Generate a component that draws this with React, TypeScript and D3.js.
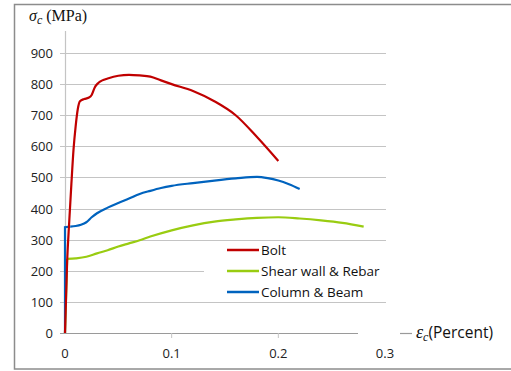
import React from "react";
import * as d3 from "d3";

const yTicks = [0, 100, 200, 300, 400, 500, 600, 700, 800, 900];
const xTicks = [0, 0.1, 0.2, 0.3];
const xTickLabels = ["0", "0.1", "0.2", "0.3"];

const boltX = [0, 0.002, 0.004, 0.006, 0.008, 0.01, 0.012, 0.014, 0.018, 0.022, 0.025, 0.028, 0.031, 0.035, 0.04, 0.05, 0.06, 0.07, 0.08, 0.09, 0.1, 0.12, 0.14, 0.16, 0.18, 0.2];
const boltY = [0, 230, 360, 480, 590, 665, 720, 745, 752, 756, 765, 790, 803, 812, 818, 827, 830, 828, 824, 812, 800, 778, 745, 700, 630, 553];

const shearX = [0, 0.002, 0.01, 0.02, 0.03, 0.04, 0.05, 0.06, 0.07, 0.08, 0.1, 0.12, 0.14, 0.16, 0.18, 0.2, 0.22, 0.24, 0.26, 0.28];
const shearY = [0, 238, 240, 245, 256, 266, 278, 288, 298, 310, 330, 346, 358, 365, 370, 372, 368, 362, 354, 342];

const columnX = [0, 0, 0.005, 0.01, 0.015, 0.02, 0.025, 0.03, 0.04, 0.05, 0.06, 0.07, 0.08, 0.09, 0.1, 0.12, 0.14, 0.16, 0.18, 0.19, 0.2, 0.21, 0.22];
const columnY = [0, 340, 342, 344, 348, 356, 372, 385, 403, 418, 432, 447, 457, 466, 473, 482, 490, 497, 502, 498, 490, 478, 463];

const seriesNames = ["Bolt", "Shear wall & Rebar", "Column & Beam"];
const seriesColors = ["#C00000", "#99CC11", "#0063BE"];

export default function App() {
  const x = d3.scaleLinear().domain([0, 0.3]).range([65, 385]);
  const y = d3.scaleLinear().domain([0, 900]).range([333, 53]);
  const line = d3
    .line<[number, number]>()
    .x((d) => x(d[0]))
    .y((d) => y(d[1]))
    .curve(d3.curveMonotoneX);
  const lineLin = d3
    .line<[number, number]>()
    .x((d) => x(d[0]))
    .y((d) => y(d[1]))
    .curve(d3.curveLinear);

  const bolt = boltX.map((v, i) => [v, boltY[i]] as [number, number]);
  const shear = shearX.map((v, i) => [v, shearY[i]] as [number, number]);
  const column = columnX.map((v, i) => [v, columnY[i]] as [number, number]);

  const sans = "'Open Sans', 'Liberation Sans', sans-serif";
  const serif = "'Liberation Serif', 'DejaVu Serif', serif";

  return (
    <svg
      width={511}
      height={371}
      style={{ position: "absolute", left: 0, top: 0, background: "#fff" }}
    >
      <rect x={14.5} y={4.5} width={520} height={364.5} fill="#fff" stroke="#8c8c8c" strokeWidth={1.5} />
      {/* gridlines */}
      {yTicks.map((t) => (
        <g key={t}>
          <line
            x1={60}
            x2={t === 0 ? 358 : 386}
            y1={Math.round(y(t)) + 0.5}
            y2={Math.round(y(t)) + 0.5}
            stroke={t === 0 ? "#9a9a9a" : "#c4c4c4"}
            strokeWidth={1.2}
          />
          <text
            x={53}
            y={y(t) + 5}
            textAnchor="end"
            fontFamily={sans}
            fontSize={13}
            fill="#222"
          >
            {t}
          </text>
        </g>
      ))}
      {/* y axis */}
      <line x1={65.5} x2={65.5} y1={31} y2={333} stroke="#c4c4c4" strokeWidth={1.2} />
      {/* x ticks */}
      {xTicks.map((t, i) => (
        <g key={t}>
          {i > 0 && i < 3 && (
            <line x1={x(t)} x2={x(t)} y1={333} y2={338} stroke="#c4c4c4" strokeWidth={1} />
          )}
          <text
            x={x(t)}
            y={358}
            textAnchor="middle"
            fontFamily={sans}
            fontSize={13}
            fill="#222"
          >
            {xTickLabels[i]}
          </text>
        </g>
      ))}
      {/* series */}
      <path d={lineLin(shear.slice(0, 2)) || ""} fill="none" stroke={seriesColors[1]} strokeWidth={2.2} />
      <path d={line(shear.slice(1)) || ""} fill="none" stroke={seriesColors[1]} strokeWidth={2.2} />
      <path d={lineLin(column.slice(0, 3)) || ""} fill="none" stroke={seriesColors[2]} strokeWidth={2.2} />
      <path d={line(column.slice(2)) || ""} fill="none" stroke={seriesColors[2]} strokeWidth={2.2} />
      <path d={line(bolt) || ""} fill="none" stroke={seriesColors[0]} strokeWidth={2.2} />
      {/* legend */}
      <rect x={204} y={242} width={183} height={59} fill="#fff" />
      {seriesNames.map((n, i) => (
        <g key={n}>
          <line
            x1={227}
            x2={259}
            y1={250 + i * 21}
            y2={250 + i * 21}
            stroke={seriesColors[i]}
            strokeWidth={2.5}
          />
          <text x={261} y={255 + i * 21} fontFamily={sans} fontSize={13.5} fill="#111">
            {n}
          </text>
        </g>
      ))}
      {/* y label */}
      <text x={29} y={21} fontFamily={serif} fontSize={16} fill="#111">
        <tspan fontStyle="italic">σ</tspan>
        <tspan fontStyle="italic" fontSize={12} dy={3}>c</tspan>
        <tspan dy={-3} dx={4}>(MPa)</tspan>
      </text>
      {/* x label */}
      <line x1={400} x2={412} y1={333.5} y2={333.5} stroke="#9a9a9a" strokeWidth={1.2} />
      <text x={416} y={338} fontFamily={sans} fontSize={15.5} fill="#111">
        <tspan fontFamily={serif} fontStyle="italic" fontSize={18}>ε</tspan>
        <tspan fontFamily={serif} fontStyle="italic" fontSize={12} dy={3}>c</tspan>
        <tspan dy={-3}>(Percent)</tspan>
      </text>
    </svg>
  );
}
